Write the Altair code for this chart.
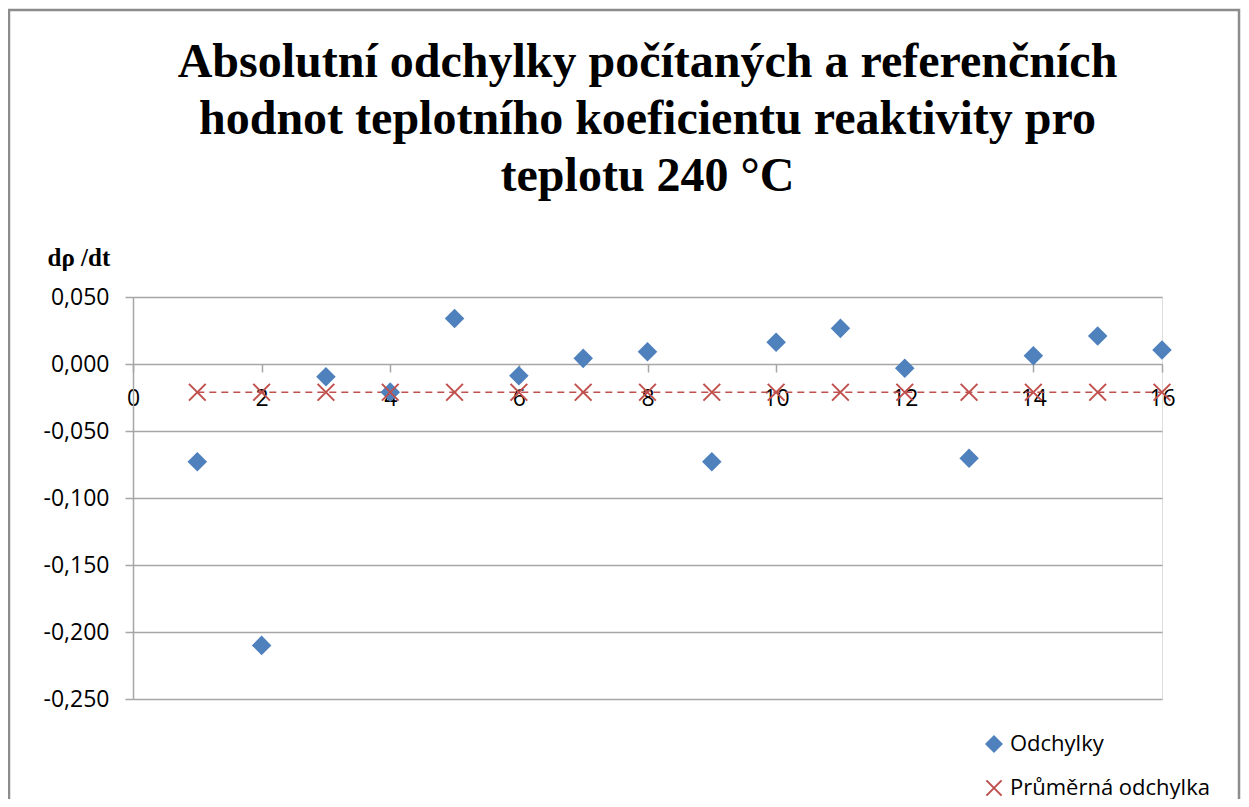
import altair as alt
import pandas as pd

# data
x_vals = list(range(1, 17))
odchylky = [-0.073, -0.210, -0.0095, -0.021, 0.034, -0.0087, 0.0042, 0.0092,
            -0.0729, 0.0162, 0.0266, -0.0032, -0.0704, 0.0062, 0.0209, 0.0104]
prumer = [-0.0211] * 16
series_names = ["Odchylky", "Průměrná odchylka"]
x_ticks = [0, 2, 4, 6, 8, 10, 12, 14, 16]
y_ticks = [0.05, 0.0, -0.05, -0.10, -0.15, -0.20, -0.25]
title_lines = ["Absolutní odchylky počítaných a referenčních",
               "hodnot teplotního koeficientu reaktivity pro",
               "teplotu 240 °C"]

df = pd.DataFrame({
    "x": x_vals + x_vals,
    "y": odchylky + prumer,
    "series": [series_names[0]] * 16 + [series_names[1]] * 16,
})

BLUE = "#4F81BD"
RED = "#C0504D"
GRID = "#A6A6A6"
LABEL_FONT = "Open Sans"

W, H = 1029, 402

xscale = alt.Scale(domain=[0, 16], nice=False, zero=False)
yscale = alt.Scale(domain=[-0.25, 0.05], nice=False, zero=False)

xaxis = alt.Axis(values=x_ticks, orient="bottom", offset=-335, grid=False,
                 domain=False, tickColor=GRID, tickSize=8, tickWidth=1.5,
                 labelFont=LABEL_FONT, labelFontSize=23, labelColor="black",
                 labelPadding=15, title=None, labelFlush=False, format="d")
yaxis = alt.Axis(values=y_ticks, grid=True, gridColor=GRID, gridWidth=1.5,
                 domainColor=GRID, domainWidth=1.5, tickColor=GRID, tickSize=8,
                 tickWidth=1.5, labelFont=LABEL_FONT, labelFontSize=23,
                 labelColor="black", labelPadding=16,
                 labelExpr="replace(replace(format(datum.value, '.3f'), '.', ','), '\u2212', '-')",
                 title="dρ /dt", titleAngle=0, titleAlign="left",
                 titleBaseline="middle", titleX=-86, titleY=-40,
                 titleFont="Liberation Serif", titleFontSize=25,
                 titleFontWeight="bold", titleColor="black")

legend = alt.Legend(orient="none", legendX=850, legendY=436,
                    title=None, direction="vertical",
                    labelFont=LABEL_FONT, labelFontSize=22, labelLimit=400,
                    labelColor="black", symbolSize=230,
                    symbolStrokeWidth=2, rowPadding=20, labelOffset=5)

base = alt.Chart(df)

line = base.transform_filter(alt.datum.series == series_names[1]).mark_line(
    color=RED, strokeDash=[7, 5], strokeWidth=1.6
).encode(
    x=alt.X("x:Q", scale=xscale, axis=xaxis),
    y=alt.Y("y:Q", scale=yscale, axis=yaxis),
)

points = base.mark_point(filled=True, strokeWidth=2, opacity=1, size=280).encode(
    x=alt.X("x:Q", scale=xscale, axis=xaxis),
    y=alt.Y("y:Q", scale=yscale, axis=yaxis),
    shape=alt.Shape("series:N", scale=alt.Scale(domain=series_names,
                    range=["diamond", "M-1,-1L1,1M-1,1L1,-1"]), legend=legend),
    fill=alt.Fill("series:N", scale=alt.Scale(domain=series_names,
                  range=[BLUE, "transparent"]), legend=legend),
    stroke=alt.Stroke("series:N", scale=alt.Scale(domain=series_names,
                      range=[BLUE, RED]), legend=legend),
)

border = alt.Chart(alt.Data(values=[{"a": 1}])).mark_rect(
    filled=False, stroke="#8C8C8C", strokeWidth=2.5, clip=False
).encode(x=alt.value(-124), x2=alt.value(1106), y=alt.value(-287), y2=alt.value(540))

chart = alt.layer(border, line, points).properties(
    width=W, height=H,
    title=alt.TitleParams(text=title_lines, font="Liberation Serif", fontSize=48,
                          fontWeight="bold", color="black", lineHeight=57,
                          anchor="middle", frame="group", offset=-192),
    autosize=alt.AutoSizeParams(type="none"),
    padding={"left": 125, "top": 289, "right": 79, "bottom": 100},
).configure_view(stroke=None).configure(background="white")

chart.save("out.html", embed_options={"renderer": "svg", "actions": False})
